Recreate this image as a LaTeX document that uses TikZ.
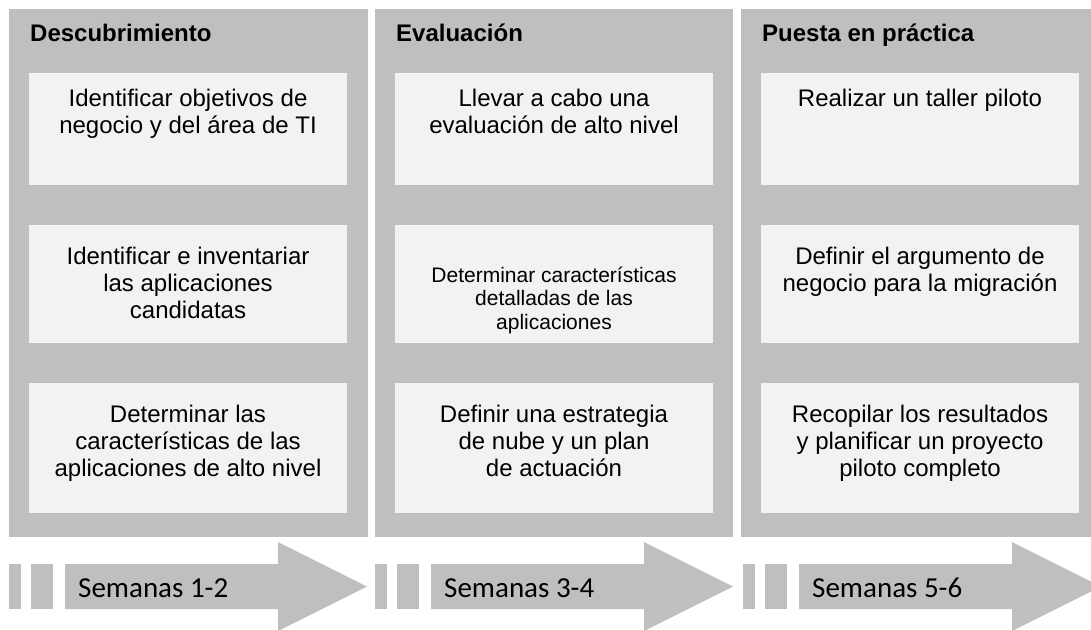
\documentclass[tikz,border=0pt]{standalone}
\usepackage{fontspec}
\setmainfont{Liberation Sans}
\newfontfamily\calib{Carlito}
\definecolor{panelgrey}{HTML}{BFBFBF}
\definecolor{boxgrey}{HTML}{F2F2F2}
\begin{document}
\begin{tikzpicture}[x=1pt,y=-1pt,
  panel/.style={fill=panelgrey},
  card/.style={fill=boxgrey},
  phase/.style={anchor=base west, inner sep=0pt, font=\bfseries\fontsize{24}{27}\selectfont},
  body/.style={anchor=north, inner sep=0pt, align=center, font=\fontsize{24}{27}\selectfont},
  smallbody/.style={anchor=north, inner sep=0pt, align=center, font=\fontsize{21}{23.5}\selectfont},
  week/.style={anchor=base west, inner sep=0pt, font=\calib\fontsize{29}{34}\selectfont},
  arrowfill/.style={fill=panelgrey}]
\useasboundingbox (0,0) rectangle (1091,629);
\clip (0,0) rectangle (1091,629);

% panels
\fill[panel] (9,9) rectangle (368,537);
\fill[panel] (375,9) rectangle (733,537);
\fill[panel] (741,9) rectangle (1100,537);

% cards
\foreach \l/\r in {29/347, 395/713, 761/1079}{
  \fill[card] (\l,73) rectangle (\r,185);
  \fill[card] (\l,225) rectangle (\r,343);
  \fill[card] (\l,383) rectangle (\r,513);
}

% titles
\node[phase] (t1) at (30,41) {Descubrimiento};
\node[phase] (t2) at (396,41) {Evaluación};
\node[phase] (t3) at (762,41) {Puesta en práctica};

% column 1
\node[body] (a1) at (188,88.7) {Identificar objetivos de\\negocio y del área de TI};
\node[body] (a2) at (188,246.7) {Identificar e inventariar\\las aplicaciones\\candidatas};
\node[body] (a3) at (188,404.7) {Determinar las\\características de las\\aplicaciones de alto nivel};

% column 2
\node[body] (b1) at (554,88.7) {Llevar a cabo una\\evaluación de alto nivel};
\node[smallbody] (b2) at (554,266.7) {Determinar características\\detalladas de las\\aplicaciones};
\node[body] (b3) at (554,404.7) {Definir una estrategia\\de nube y un plan\\de actuación};

% column 3
\node[body] (c1) at (920,88.7) {Realizar un taller piloto};
\node[body] (c2) at (920,246.7) {Definir el argumento de\\negocio para la migración};
\node[body] (c3) at (920,404.7) {Recopilar los resultados\\y planificar un proyecto\\piloto completo};

% timeline arrows
\foreach \x/\lab/\nm in {65/Semanas 1-2/w1, 431/Semanas 3-4/w2, 799/Semanas 5-6/w3}{
  \fill[arrowfill] (\x-56,564) rectangle (\x-44,609);
  \fill[arrowfill] (\x-34,564) rectangle (\x-12,609);
  \fill[arrowfill] (\x,564) -- (\x+213,564) -- (\x+213,542) -- (\x+302,586.5)
     -- (\x+213,631) -- (\x+213,609) -- (\x,609) -- cycle;
  \node[week] (\nm) at (\x+13,597) {\lab};
}
\end{tikzpicture}
\end{document}
